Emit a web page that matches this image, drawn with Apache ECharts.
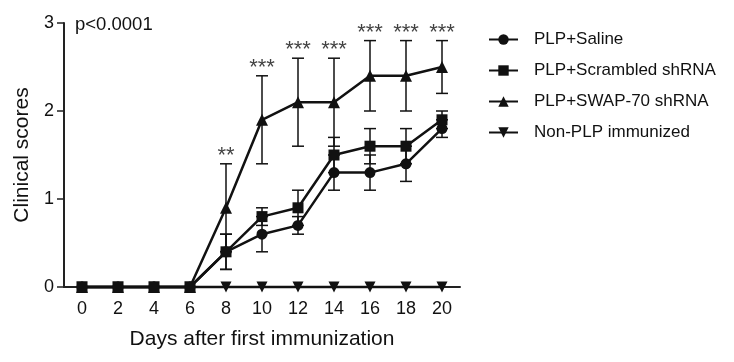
<!DOCTYPE html>
<html>
<head>
<meta charset="utf-8">
<script src="https://cdn.jsdelivr.net/npm/echarts@6/dist/echarts.min.js"></script>
<style>
html,body{margin:0;padding:0;background:#fff;}
#c{width:734px;height:362px;}
</style>
</head>
<body>
<div id="c"></div>
<script>
// ---- data ----
const days = ['0','2','4','6','8','10','12','14','16','18','20'];
const yTicks = [0, 1, 2, 3];
const salineMean    = [0, 0, 0, 0, 0.4, 0.6, 0.7, 1.3, 1.3, 1.4, 1.8];
const salineSem     = [0, 0, 0, 0, 0.2, 0.2, 0.1, 0.2, 0.2, 0.2, 0.1];
const scrambledMean = [0, 0, 0, 0, 0.4, 0.8, 0.9, 1.5, 1.6, 1.6, 1.9];
const scrambledSem  = [0, 0, 0, 0, 0.2, 0.1, 0.2, 0.2, 0.2, 0.2, 0.1];
const swapMean      = [0, 0, 0, 0, 0.9, 1.9, 2.1, 2.1, 2.4, 2.4, 2.5];
const swapSem       = [0, 0, 0, 0, 0.5, 0.5, 0.5, 0.5, 0.4, 0.4, 0.3];
const nonPlpMean    = [0, 0, 0, 0, 0, 0, 0, 0, 0, 0, 0];
const stars         = ['', '', '', '', '**', '***', '***', '***', '***', '***', '***'];
const seriesNames = ['PLP+Saline', 'PLP+Scrambled shRNA', 'PLP+SWAP-70 shRNA', 'Non-PLP immunized'];
const pText = 'p<0.0001';

// ---- helpers ----
const FONT = '"Liberation Sans", Arial, sans-serif';
const INK = '#111';
function errData(mean, sem) {
  const out = [];
  for (let i = 0; i < mean.length; i++) {
    if (sem[i] > 0) out.push([i, mean[i] - sem[i], mean[i] + sem[i]]);
  }
  return out;
}
function errSeries(mean, sem, z) {
  return {
    type: 'custom',
    z: z,
    silent: true,
    data: errData(mean, sem),
    renderItem: function (params, api) {
      const lo = api.coord([api.value(0), api.value(1)]);
      const hi = api.coord([api.value(0), api.value(2)]);
      const w = 6;
      const st = { stroke: INK, lineWidth: 1.5 };
      return {
        type: 'group',
        children: [
          { type: 'line', shape: { x1: lo[0], y1: lo[1], x2: hi[0], y2: hi[1] }, style: st },
          { type: 'line', shape: { x1: hi[0] - w, y1: hi[1], x2: hi[0] + w, y2: hi[1] }, style: st },
          { type: 'line', shape: { x1: lo[0] - w, y1: lo[1], x2: lo[0] + w, y2: lo[1] }, style: st }
        ]
      };
    }
  };
}
function lineSeries(name, data, symbol, size, z, rotate) {
  return {
    name: name,
    type: 'line',
    data: data,
    symbol: symbol,
    symbolSize: size,
    symbolRotate: rotate || 0,
    showSymbol: true,
    clip: false,
    z: z,
    itemStyle: { color: INK, borderWidth: 0 },
    lineStyle: { color: INK, width: 2.5 },
    emphasis: { disabled: true },
    animation: false
  };
}

const swapHigh = swapMean.map((m, i) => m + swapSem[i]);

const option = {
  animation: false,
  backgroundColor: '#fff',
  textStyle: { fontFamily: FONT },
  grid: { left: 64, right: 274, top: 23, bottom: 75, containLabel: false },
  xAxis: {
    type: 'category',
    data: days,
    boundaryGap: true,
    axisLine: { lineStyle: { color: '#222', width: 2 } },
    axisTick: { show: false },
    axisLabel: { color: INK, fontSize: 18, fontFamily: FONT, margin: 13 },
    name: 'Days after first immunization',
    nameLocation: 'middle',
    nameGap: 42,
    nameTextStyle: { color: INK, fontSize: 21, fontFamily: FONT },
    splitLine: { show: false }
  },
  yAxis: {
    type: 'value',
    min: yTicks[0],
    max: yTicks[yTicks.length - 1],
    interval: 1,
    axisLine: { show: true, lineStyle: { color: '#222', width: 2 } },
    axisTick: { show: true, length: 7, lineStyle: { color: '#222', width: 1.5 } },
    axisLabel: { color: INK, fontSize: 18, fontFamily: FONT, margin: 10 },
    splitLine: { show: false },
    name: 'Clinical scores',
    nameLocation: 'middle',
    nameGap: 28,
    nameTextStyle: { color: INK, fontSize: 21, fontFamily: FONT }
  },
  legend: {
    data: seriesNames,
    orient: 'vertical',
    left: 488,
    top: 31,
    padding: 0,
    itemWidth: 29,
    itemHeight: 13,
    itemGap: 14,
    iconRotate: 'inherit',
    textStyle: { color: INK, fontSize: 17, fontFamily: FONT, padding: [0, 0, 0, 11] },
    selectedMode: false
  },
  graphic: [
    { type: 'text', left: 75, top: 15, style: { text: pText, fill: INK, font: '18.5px ' + FONT } }
  ],
  series: [
    errSeries(salineMean, salineSem, 2),
    errSeries(scrambledMean, scrambledSem, 2),
    errSeries(swapMean, swapSem, 2),
    lineSeries(seriesNames[3], nonPlpMean, 'triangle', 11, 3, 180),
    lineSeries(seriesNames[0], salineMean, 'circle', 11, 4),
    lineSeries(seriesNames[2], swapMean, 'triangle', 12, 5),
    lineSeries(seriesNames[1], scrambledMean, 'rect', 11, 6),
    {
      type: 'scatter',
      silent: true,
      z: 7,
      symbolSize: 0,
      data: swapHigh.map((v, i) => ({ value: [i, v], label: { formatter: stars[i] } })),
      label: {
        show: true,
        position: 'top',
        distance: -3,
        color: INK,
        fontSize: 22,
        fontFamily: FONT
      }
    }
  ]
};

const chart = echarts.init(document.getElementById('c'), null, { renderer: 'canvas' });
chart.setOption(option);
</script>
</body>
</html>
